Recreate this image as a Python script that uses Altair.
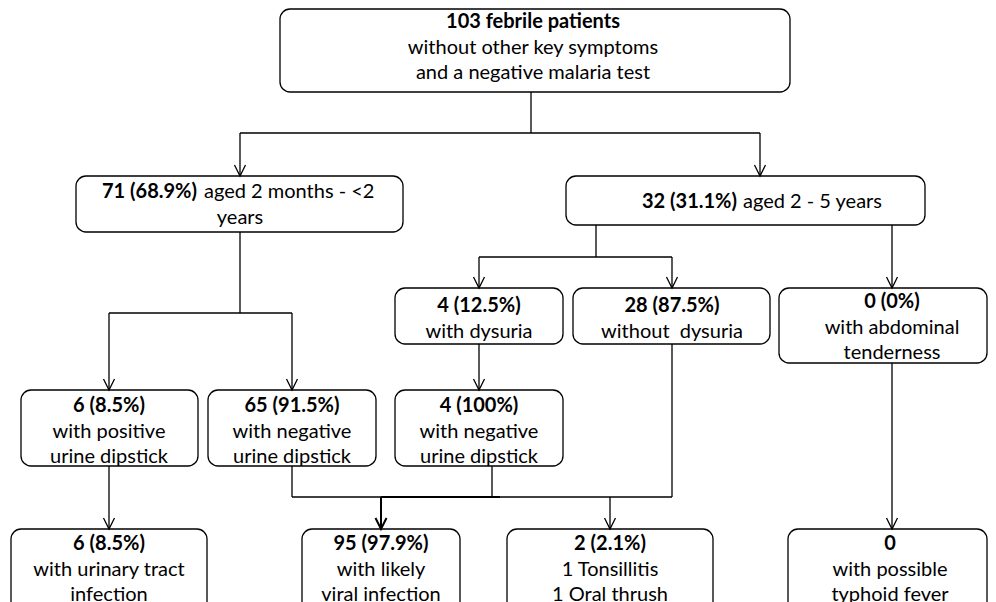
import altair as alt
import pandas as pd

node_ids = ["all", "young", "older", "dys", "nodys", "abd",
            "pos", "neg", "neg2", "uti", "viral", "other", "typh"]
counts = [103, 71, 32, 4, 28, 0, 6, 65, 4, 6, 95, 2, 0]
percents = ["", "68.9%", "31.1%", "12.5%", "87.5%", "0%",
            "8.5%", "91.5%", "100%", "8.5%", "97.9%", "2.1%", ""]
title_suffix = {"all": "febrile patients"}
inline_text = {"young": "aged 2 months - <2", "older": "aged 2 - 5 years"}
descriptions = {
    "all": ["without other key symptoms", "and a negative malaria test"],
    "young": ["years"],
    "older": [],
    "dys": ["with dysuria"],
    "nodys": ["without\u00a0 dysuria"],
    "abd": ["with abdominal", "tenderness"],
    "pos": ["with positive", "urine dipstick"],
    "neg": ["with negative", "urine dipstick"],
    "neg2": ["with negative", "urine dipstick"],
    "uti": ["with urinary tract", "infection"],
    "viral": ["with likely", "viral infection"],
    "other": ["1 Tonsillitis", "1 Oral thrush"],
    "typh": ["with possible", "typhoid fever"],
}

# ---------------- layout (pixel geometry, kept apart from the data) --------
box = {  # x0, x1, y0, y1
    "all": (280, 790, 9, 92),
    "young": (76, 403, 176, 232),
    "older": (566, 925, 176, 225),
    "dys": (395, 563, 288, 344),
    "nodys": (573, 770, 288, 344),
    "abd": (779, 987, 288, 363),
    "pos": (21, 198, 390, 466),
    "neg": (208, 376, 390, 466),
    "neg2": (395, 563, 390, 466),
    "uti": (11, 207, 529, 620),
    "viral": (302, 460, 529, 620),
    "other": (507, 713, 529, 620),
    "typh": (788, 987, 529, 620),
}
text_anchor = {  # centre x, first baseline
    "all": (533, 28), "young": (240, 198), "older": (762, 208),
    "dys": (479, 312), "nodys": (672, 312), "abd": (892, 308),
    "pos": (109, 412), "neg": (292, 412), "neg2": (479, 412),
    "uti": (109, 550), "viral": (381, 550), "other": (610, 550),
    "typh": (890, 550),
}
split_x = {"young": (197, 204), "older": (737, 743)}
LINE_H = 25.5

segments = [  # x, y, x2, y2, width
    (531, 92, 531, 133, 1.3), (240, 133, 760, 133, 1.3),
    (240, 133, 240, 176, 1.3), (760, 133, 760, 176, 1.3),
    (240, 232, 240, 313, 1.3), (109, 313, 292, 313, 1.3),
    (109, 313, 109, 390, 1.3), (292, 313, 292, 390, 1.3),
    (596, 225, 596, 257, 1.3), (479, 257, 672, 257, 1.3),
    (479, 257, 479, 288, 1.3), (672, 257, 672, 288, 1.3),
    (892, 225, 892, 288, 1.3), (479, 344, 479, 390, 1.3),
    (109, 466, 109, 529, 1.3), (292, 466, 292, 497, 1.3),
    (492, 466, 492, 497, 1.3), (672, 344, 672, 497, 1.3),
    (292, 497, 672, 497, 1.3), (381, 497, 500, 497, 2.0),
    (381, 497, 381, 529, 2.0),
    (610, 497, 610, 529, 1.3), (892, 363, 892, 529, 1.3),
]
arrow_tips = [(240, 176, 1.3), (760, 176, 1.3), (109, 390, 1.3), (292, 390, 1.3),
              (479, 288, 1.3), (672, 288, 1.3), (892, 288, 1.3), (479, 390, 1.3),
              (109, 529, 1.3), (381, 529, 2.0), (610, 529, 1.3), (892, 529, 1.3)]

# ---------------- build tables ----------------
rect_df = pd.DataFrame([dict(id=k, x0=v[0], x1=v[1], y0=v[2], y1=v[3]) for k, v in box.items()])
seg_df = pd.DataFrame(segments, columns=["x", "y", "x2", "y2", "w"])
arr_df = pd.DataFrame(arrow_tips, columns=["x", "y", "w"])

bold_c, norm_c, bold_r, norm_l = [], [], [], []
for nid, cnt, pct in zip(node_ids, counts, percents):
    if nid in title_suffix:
        title = f"{cnt} {title_suffix[nid]}"
    elif pct:
        title = f"{cnt} ({pct})"
    else:
        title = f"{cnt}"
    cx, by = text_anchor[nid]
    if nid in inline_text:
        sx_b, sx_n = split_x[nid]
        bold_r.append(dict(x=sx_b, y=by, t=title))
        norm_l.append(dict(x=sx_n, y=by, t=inline_text[nid]))
    else:
        bold_c.append(dict(x=cx, y=by, t=title))
    for i, line in enumerate(descriptions[nid]):
        norm_c.append(dict(x=cx, y=by + (i + 1) * LINE_H, t=line))

X = alt.Scale(domain=[8, 988], nice=False, zero=False)
Y = alt.Scale(domain=[8, 594], nice=False, zero=False, reverse=True)
FONT = "Lato"
FS = 20

rects = alt.Chart(rect_df).mark_rect(
    cornerRadius=10, fill="white", stroke="black", strokeWidth=1.3
).encode(
    x=alt.X("x0:Q", scale=X, axis=None), x2="x1:Q",
    y=alt.Y("y0:Q", scale=Y, axis=None), y2="y1:Q",
)

rules = alt.Chart(seg_df).mark_rule(color="black").encode(
    x=alt.X("x:Q", scale=X, axis=None), x2="x2:Q",
    y=alt.Y("y:Q", scale=Y, axis=None), y2="y2:Q",
    strokeWidth=alt.StrokeWidth("w:Q", scale=None),
)

arrows = alt.Chart(arr_df).mark_point(
    shape="M-0.5,-1L0,0L0.5,-1", size=484, filled=False, color="black", opacity=1
).encode(
    x=alt.X("x:Q", scale=X, axis=None),
    y=alt.Y("y:Q", scale=Y, axis=None),
    strokeWidth=alt.StrokeWidth("w:Q", scale=None),
)


def text_layer(rows, align, weight):
    return alt.Chart(pd.DataFrame(rows)).mark_text(
        font=FONT, fontSize=FS, fontWeight=weight, align=align,
        baseline="alphabetic", color="black"
    ).encode(
        x=alt.X("x:Q", scale=X, axis=None),
        y=alt.Y("y:Q", scale=Y, axis=None),
        text="t:N",
    )


chart = alt.layer(
    rects, rules, arrows,
    text_layer(bold_c, "center", "bold"),
    text_layer(norm_c, "center", "normal"),
    text_layer(bold_r, "right", "bold"),
    text_layer(norm_l, "left", "normal"),
).properties(
    width=980, height=586,
    autosize=alt.AutoSizeParams(type="none"),
    padding={"left": 0, "top": 0, "right": 0, "bottom": 8},
    background="white",
).configure_view(strokeWidth=0)

chart.save("out.html", embed_options={"renderer": "svg", "actions": False})
